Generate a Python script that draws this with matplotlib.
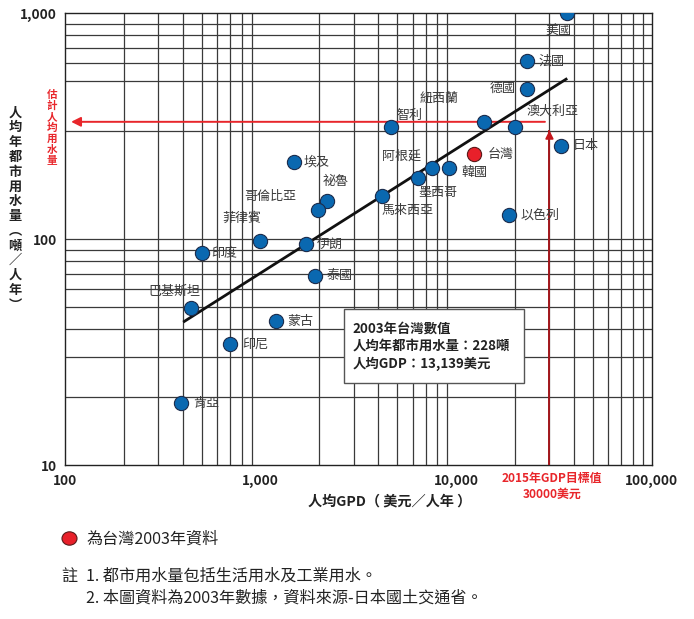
import matplotlib.pyplot as plt
from matplotlib.patches import Rectangle, Circle

plt.rcParams['font.family'] = ['Noto Sans CJK TC', 'DejaVu Sans']

# country data: GDP per capita (USD) and urban water use (t/person/yr)
countries = ['美國', '法國', '德國', '澳大利亞', '紐西蘭', '智利', '日本', '阿根廷',
             '墨西哥', '韓國', '馬來西亞', '以色列', '埃及', '祕魯', '哥倫比亞',
             '菲律賓', '伊朗', '印度', '泰國', '巴基斯坦', '蒙古', '印尼', '肯亞']
gdp = [37000, 23100, 23100, 20100, 13900, 4650, 34300, 6400,
       7550, 9200, 4200, 18600, 1480, 2190, 1970,
       990, 1700, 500, 1890, 440, 1200, 700, 393]
water = [1005, 615, 464, 313, 330, 313, 259, 186,
         207, 207, 156, 128, 220, 147, 135,
         98.6, 95, 86.7, 69, 49.5, 43.5, 34.4, 18.8]

taiwan_gdp = 12400
taiwan_water = 238

trend_x = [402, 37000]
trend_y = [43, 515]

target_gdp = 30000
target_water = 331

# label offsets in pixels (dx, dy up, ha)
label_pos = {
    '美國': (-9, -18, 'center'), '法國': (11, 0, 'left'), '德國': (-12, 0, 'right'),
    '澳大利亞': (11, 16, 'left'), '紐西蘭': (-45, 24, 'center'), '智利': (18, 12, 'center'),
    '日本': (12, 0, 'left'), '阿根廷': (-17, 22, 'center'), '墨西哥': (6, -25, 'center'),
    '韓國': (12, -5, 'left'), '馬來西亞': (25, -15, 'center'), '以色列': (12, 0, 'left'),
    '埃及': (10, 0, 'left'), '祕魯': (8, 20, 'center'), '哥倫比亞': (-48, 13, 'center'),
    '菲律賓': (-18, 22, 'center'), '伊朗': (11, 0, 'left'), '印度': (10, 0, 'left'),
    '泰國': (12, 0, 'left'), '巴基斯坦': (-16, 17, 'center'), '蒙古': (11, 0, 'left'),
    '印尼': (12, 0, 'left'), '肯亞': (12, 0, 'left'),
}

W, H = 694, 619
fig = plt.figure(figsize=(W / 100, H / 100), dpi=100)
ax = fig.add_axes([65 / W, 1 - 465.3 / H, (651.7 - 65) / W, (465.3 - 13.3) / H])
ax.set_xscale('log')
ax.set_yscale('log')
ax.set_xlim(100, 100000)
ax.set_ylim(10, 1000)

# grid (upper decade on the original lacks the 200 and 400 lines)
grid_c = '#3a3a3a'
for d in [100, 1000, 10000]:
    for m in range(2, 10):
        ax.axvline(d * m, color=grid_c, lw=0.9, zorder=1)
for v in [20, 30, 40, 50, 60, 70, 80, 90, 100, 300, 500, 600, 700, 800, 900]:
    ax.axhline(v, color=grid_c, lw=0.9, zorder=1)
for s in ax.spines.values():
    s.set_color('#222222')
    s.set_linewidth(1.0)

ax.set_xticks([100, 1000, 10000, 100000])
ax.set_xticklabels(['100', '1,000', '10,000', '100,000'])
ax.set_yticks([10, 100, 1000])
ax.set_yticklabels(['10', '100', '1,000'])
ax.minorticks_off()
ax.tick_params(length=0, labelsize=9.8, pad=6)
for t in ax.get_xticklabels() + ax.get_yticklabels():
    t.set_fontweight('bold')
    t.set_color('#222222')

# red target arrows
ax.plot([target_gdp, target_gdp], [10, 300], color='#a3171c', lw=1.4, zorder=3)
ax.annotate('', xy=(target_gdp, 312), xytext=(target_gdp, 280),
            arrowprops=dict(arrowstyle='-|>', color='#c4161c', lw=1.2,
                            mutation_scale=12), zorder=3)
ax.annotate('', xy=(104, target_water), xytext=(target_gdp * 0.98, target_water),
            arrowprops=dict(arrowstyle='-|>', color='#e8262b', lw=1.4,
                            mutation_scale=14), zorder=3)

ax.plot(trend_x, trend_y, color='#111111', lw=2, zorder=4, solid_capstyle='butt')

ax.scatter(gdp, water, s=105, color='#0a68b0', edgecolor='#1c2c4c', lw=0.8, zorder=5)
ax.scatter([taiwan_gdp], [taiwan_water], s=105, color='#e8202a', edgecolor='#5a1a1a',
           lw=0.8, zorder=5)

for name, x, y in zip(countries, gdp, water):
    dx, dy, ha = label_pos[name]
    ax.annotate(name, (x, y), xytext=(dx * 0.72, dy * 0.72), textcoords='offset points',
                ha=ha, va='center', fontsize=9.4, color='#3a3a3a', zorder=6)
ax.annotate('台灣', (taiwan_gdp, taiwan_water), xytext=(13 * 0.72, 0),
            textcoords='offset points', ha='left', va='center', fontsize=9.4,
            color='#3a3a3a', zorder=6)

# info box
fig.patches.append(Rectangle((344 / W, 1 - 383.3 / H), 180.3 / W, 74.3 / H,
                             transform=fig.transFigure, facecolor='white',
                             edgecolor='#555555', lw=1.0, zorder=10))
box_lines = ['2003年台灣數值', '人均年都市用水量：228噸', '人均GDP：13,139美元']
for i, line in enumerate(box_lines):
    fig.text(352.7 / W, 1 - (328.3 + 18 * i) / H, line, fontsize=9.6, fontweight='bold',
             color='#222222', va='center', ha='left', zorder=11)

# axis labels
fig.text(390 / W, 1 - 501 / H, '人均GPD（ 美元／人年 ）', ha='center', va='center',
         fontsize=10.2, fontweight='bold', color='#222222')
ylab = '人均年都市用水量︵噸／人年︶'
fig.text(15 / W, 1 - 208.5 / H, '\n'.join(ylab), ha='center', va='center', fontsize=9.5,
         fontweight='bold', color='#222222', linespacing=1.07)
fig.text(52 / W, 1 - 128 / H, '\n'.join('估計人均用水量'), ha='center', va='center',
         fontsize=7.6, fontweight='bold', color='#e8262b', linespacing=1.12)
fig.text(552 / W, 1 - 478.3 / H, '2015年GDP目標值', ha='center', va='center',
         fontsize=8.6, fontweight='bold', color='#e8262b')
fig.text(552 / W, 1 - 494 / H, '30000美元', ha='center', va='center',
         fontsize=8.6, fontweight='bold', color='#e8262b')

# legend and notes
fig.patches.append(Circle((69.5 / W, 1 - 538.5 / H), 7.5 / W, transform=fig.transFigure,
                          facecolor='#e8202a', edgecolor='#5a1a1a', lw=0.8))
fig.text(86 / W, 1 - 539 / H, '為台灣2003年資料', ha='left', va='center', fontsize=11.6,
         color='#222222')
fig.text(61 / W, 1 - 576 / H, '註', ha='left', va='center', fontsize=11.6, color='#222222')
fig.text(86 / W, 1 - 576 / H, '1. 都市用水量包括生活用水及工業用水。', ha='left', va='center',
         fontsize=11.6, color='#222222')
fig.text(86 / W, 1 - 598 / H, '2. 本圖資料為2003年數據，資料來源-日本國土交通省。', ha='left',
         va='center', fontsize=11.6, color='#222222')

fig.savefig('out.png', dpi=100)
